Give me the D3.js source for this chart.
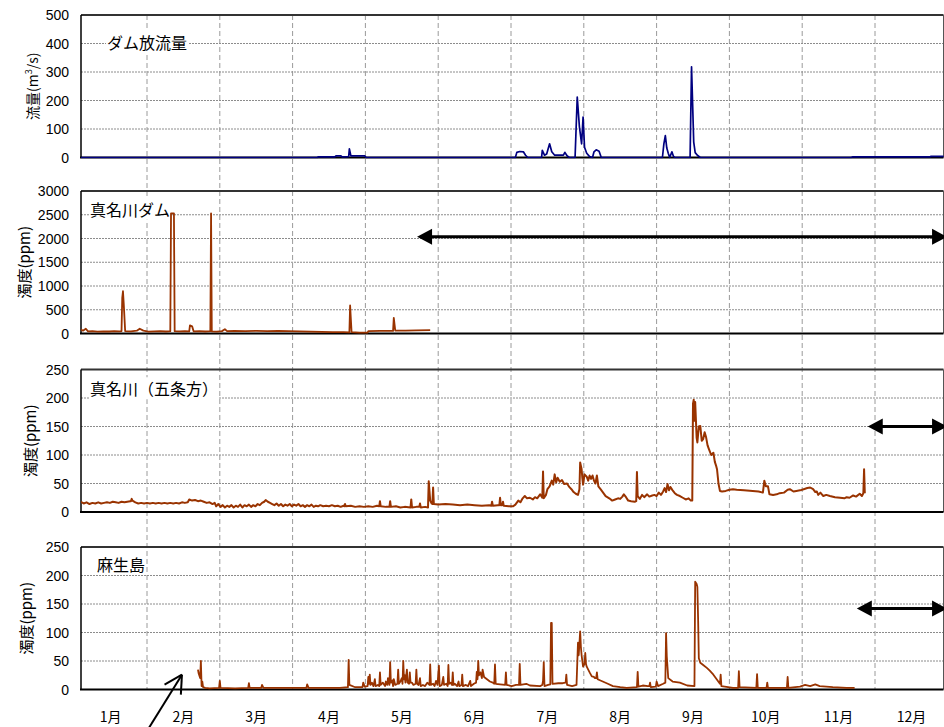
<!DOCTYPE html>
<html>
<head>
<meta charset="utf-8">
<title>ダム放流量と濁度</title>
<script src="https://d3js.org/d3.v7.min.js"></script>
<style>
    body { margin: 0; background: #fff; }
    svg { display: block; }
    .num { font-family: 'Liberation Sans', Arial, sans-serif; font-size: 14px; fill: #000; }
    .jp { font-family: 'Noto Sans CJK JP', sans-serif; fill: #000; }
    .hgrid { stroke: #8c8c8c; stroke-width: 1; stroke-dasharray: 2,1; }
    .vgrid { stroke: #9a9a9a; stroke-width: 1; stroke-dasharray: 5,3; }
</style>
</head>
<body>
<div id="chart"></div>
<script>
// time is in months: 0 = 1 Jan, 12 = 31 Dec
const months = ["1月","2月","3月","4月","5月","6月","7月","8月","9月","10月","11月","12月"];
const flowTicks = [0, 100, 200, 300, 400, 500];
const damTicks = [0, 500, 1000, 1500, 2000, 2500, 3000];
const riverTicks = [0, 50, 100, 150, 200, 250];

// ダム放流量 (m3/s)
const flowData = [[0.09,0],[3.34,0],[3.35,2],[3.58,2],[3.60,6],[3.66,6],[3.68,2],[3.77,3],[3.78,30],[3.80,6],
    [3.99,6],[4.01,0],[6.06,0],[6.08,18],[6.12,21],[6.17,20],[6.20,8],[6.23,0],[6.42,0],[6.43,25],[6.46,8],
    [6.49,12],[6.53,48],[6.56,20],[6.60,8],[6.72,8],[6.74,18],[6.77,6],[6.80,0],[6.88,0],[6.91,212],[6.94,107],
    [6.97,48],[6.99,142],[7.01,36],[7.04,15],[7.08,3],[7.12,0],[7.14,20],[7.17,27],[7.21,22],[7.24,0],[8.08,0],
    [8.10,48],[8.12,77],[8.14,33],[8.16,15],[8.18,0],[8.21,20],[8.23,5],[8.25,0],[8.46,0],[8.48,318],[8.51,54],
    [8.53,17],[8.56,8],[8.60,0],[10.67,0],[10.69,2],[11.75,2],[11.77,4],[11.96,4]];

// 真名川ダム 濁度 (ppm)
const damData = [[0.09,80],[0.12,60],[0.16,100],[0.19,45],[0.25,50],[0.32,40],[0.40,45],[0.48,42],[0.55,48],
    [0.62,45],[0.65,50],[0.66,750],[0.67,890],[0.68,640],[0.70,50],[0.78,45],[0.86,60],[0.90,100],[0.95,60],
    [1.02,40],[1.10,45],[1.18,50],[1.26,42],[1.32,50],[1.33,2530],[1.37,2530],[1.38,50],[1.45,45],[1.52,50],
    [1.58,45],[1.59,170],[1.62,150],[1.64,45],[1.72,50],[1.80,42],[1.87,48],[1.88,2530],[1.89,45],[1.96,40],
    [2.03,50],[2.07,90],[2.10,50],[2.20,55],[2.35,50],[2.50,55],[2.65,50],[2.80,55],[2.95,50],[3.10,45],
    [3.25,40],[3.40,35],[3.55,30],[3.70,30],[3.78,25],[3.79,590],[3.81,30],[3.92,20],[4.03,20],[4.04,50],
    [4.20,55],[4.38,55],[4.39,330],[4.41,60],[4.55,60],[4.70,65],[4.89,70]];

// 真名川(五条方) 濁度 (ppm)
const gojoData = [[0.09,18],[0.13,15],[0.17,17],[0.21,14],[0.25,16],[0.29,15],[0.33,17],[0.37,15],[0.41,16],
    [0.45,17],[0.49,16],[0.53,18],[0.57,17],[0.61,16],[0.65,18],[0.69,17],[0.73,18],[0.77,19],[0.78,19],
    [0.79,23],[0.80,20],[0.84,17],[0.88,15],[0.92,16],[0.96,15],[1.00,16],[1.04,15],[1.08,16],[1.12,15],
    [1.16,16],[1.20,15],[1.24,16],[1.28,15],[1.32,16],[1.36,15],[1.40,16],[1.44,15],[1.48,17],[1.52,16],
    [1.56,17],[1.58,22],[1.62,20],[1.66,21],[1.70,19],[1.74,20],[1.78,18],[1.82,16],[1.86,17],[1.90,14],
    [1.93,16],[1.95,10],[1.98,14],[2.01,9],[2.04,12],[2.07,8],[2.10,11],[2.13,9],[2.16,12],[2.19,8],[2.22,11],
    [2.25,9],[2.28,13],[2.31,8],[2.34,12],[2.37,10],[2.40,13],[2.43,9],[2.46,12],[2.49,10],[2.52,14],
    [2.55,12],[2.58,16],[2.61,18],[2.63,21],[2.66,18],[2.69,16],[2.72,14],[2.75,12],[2.78,15],[2.81,11],
    [2.84,14],[2.87,10],[2.90,13],[2.93,11],[2.96,14],[2.99,10],[3.02,13],[3.05,11],[3.08,14],[3.11,10],
    [3.14,12],[3.17,9],[3.20,12],[3.23,10],[3.26,13],[3.29,9],[3.32,11],[3.35,10],[3.38,12],[3.42,10],
    [3.46,11],[3.50,10],[3.54,12],[3.58,10],[3.62,11],[3.66,9],[3.70,11],[3.71,10],[3.72,14],[3.73,10],
    [3.80,11],[3.86,9],[3.92,10],[3.98,9],[4.04,10],[4.10,9],[4.16,11],[4.19,10],[4.20,19],[4.21,10],
    [4.28,9],[4.33,9],[4.34,19],[4.35,9],[4.42,10],[4.48,8],[4.54,9],[4.62,8],[4.63,22],[4.64,8],[4.70,9],
    [4.74,9],[4.75,15],[4.76,8],[4.82,9],[4.86,8],[4.87,54],[4.89,20],[4.91,15],[4.92,14],[4.93,43],
    [4.94,14],[5.00,13],[5.10,14],[5.20,13],[5.30,12],[5.40,13],[5.50,12],[5.60,11],[5.70,12],[5.73,11],
    [5.74,18],[5.75,11],[5.82,12],[5.84,12],[5.85,25],[5.86,12],[5.88,12],[5.89,18],[5.90,11],[5.97,10],
    [6.03,10],[6.06,13],[6.10,20],[6.13,17],[6.16,24],[6.19,28],[6.22,24],[6.26,25],[6.30,22],[6.33,26],
    [6.36,24],[6.40,31],[6.43,25],[6.44,71],[6.45,24],[6.48,30],[6.50,40],[6.53,45],[6.56,55],[6.58,48],
    [6.60,66],[6.62,52],[6.64,60],[6.67,53],[6.70,56],[6.73,49],[6.77,50],[6.80,44],[6.83,40],[6.86,35],
    [6.89,32],[6.92,30],[6.94,40],[6.95,87],[6.97,75],[6.98,60],[6.99,48],[7.01,66],[7.04,62],[7.06,55],
    [7.08,64],[7.10,58],[7.12,64],[7.14,55],[7.16,50],[7.18,64],[7.20,45],[7.23,40],[7.26,35],[7.30,28],
    [7.35,24],[7.39,20],[7.43,22],[7.47,24],[7.50,23],[7.53,27],[7.55,31],[7.58,26],[7.61,20],[7.65,19],
    [7.70,18],[7.72,19],[7.73,70],[7.74,28],[7.77,23],[7.80,30],[7.83,26],[7.87,31],[7.90,27],[7.94,29],
    [7.97,30],[8.00,28],[8.03,34],[8.06,30],[8.09,36],[8.11,42],[8.13,35],[8.15,49],[8.17,38],[8.19,44],
    [8.22,38],[8.25,33],[8.28,30],[8.32,28],[8.36,25],[8.40,22],[8.44,24],[8.47,20],[8.49,20],[8.50,190],
    [8.51,197],[8.52,160],[8.53,193],[8.55,130],[8.56,122],[8.58,150],[8.60,151],[8.62,125],[8.64,128],
    [8.66,140],[8.68,131],[8.70,117],[8.72,110],[8.75,100],[8.78,104],[8.80,88],[8.82,80],[8.83,75],
    [8.85,50],[8.87,37],[8.90,36],[8.95,37],[9.00,39],[9.05,40],[9.10,39],[9.20,38],[9.32,37],[9.40,36],
    [9.46,34],[9.48,55],[9.50,45],[9.53,45],[9.55,31],[9.60,30],[9.65,31],[9.69,33],[9.75,34],[9.80,39],
    [9.83,40],[9.88,36],[9.92,37],[9.97,38],[10.02,40],[10.07,42],[10.11,43],[10.15,40],[10.18,35],
    [10.20,36],[10.22,30],[10.25,34],[10.29,28],[10.33,30],[10.38,28],[10.45,26],[10.52,25],[10.58,24],
    [10.61,26],[10.65,25],[10.70,29],[10.74,27],[10.79,32],[10.82,28],[10.84,33],[10.85,75],[10.86,33]];

// 麻生島 濁度 (ppm)
const asoData = [[1.70,35],[1.71,28],[1.73,20],[1.74,50],[1.75,6],[1.76,14],[1.77,4],[1.80,3],[1.86,2],
    [1.99,3],[2.00,15],[2.01,3],[2.21,2],[2.39,3],[2.40,11],[2.41,3],[2.57,3],[2.58,8],[2.60,3],[2.96,3],
    [3.19,3],[3.20,9],[3.22,3],[3.65,3],[3.76,4],[3.77,52],[3.78,8],[3.86,4],[3.96,4],[3.97,12],[3.99,5],
    [4.03,6],[4.04,22],[4.05,10],[4.06,26],[4.07,8],[4.09,12],[4.11,6],[4.13,18],[4.14,6],[4.17,8],[4.19,6],
    [4.20,30],[4.21,8],[4.24,12],[4.27,6],[4.28,14],[4.30,8],[4.31,20],[4.33,8],[4.34,48],[4.35,12],
    [4.37,16],[4.38,6],[4.39,18],[4.41,8],[4.44,10],[4.45,35],[4.46,10],[4.48,14],[4.50,20],[4.51,10],
    [4.52,50],[4.53,18],[4.54,25],[4.55,12],[4.57,35],[4.58,12],[4.60,10],[4.61,30],[4.62,12],[4.64,12],
    [4.66,8],[4.69,10],[4.70,35],[4.71,10],[4.73,8],[4.75,20],[4.76,6],[4.79,8],[4.82,6],[4.85,12],
    [4.88,8],[4.89,44],[4.90,8],[4.93,10],[4.95,6],[4.97,15],[4.99,8],[5.01,42],[5.02,6],[5.05,8],[5.07,22],
    [5.08,8],[5.11,10],[5.13,6],[5.14,43],[5.15,10],[5.17,12],[5.19,8],[5.20,30],[5.21,8],[5.23,10],
    [5.26,6],[5.28,14],[5.29,6],[5.32,8],[5.33,26],[5.34,6],[5.38,8],[5.41,6],[5.44,15],[5.45,6],[5.49,10],
    [5.52,12],[5.53,31],[5.54,18],[5.55,50],[5.56,25],[5.58,30],[5.60,20],[5.61,35],[5.63,22],[5.67,18],
    [5.71,14],[5.75,12],[5.77,10],[5.78,44],[5.79,10],[5.85,9],[5.92,8],[5.93,30],[5.94,8],[6.01,6],
    [6.07,8],[6.11,8],[6.12,45],[6.13,8],[6.21,10],[6.26,7],[6.40,6],[6.43,8],[6.44,15],[6.45,48],[6.46,6],
    [6.51,8],[6.54,9],[6.55,117],[6.56,117],[6.57,10],[6.65,11],[6.71,11],[6.75,12],[6.76,26],[6.77,8],
    [6.84,6],[6.90,8],[6.92,82],[6.93,60],[6.95,102],[6.96,75],[6.97,60],[6.99,40],[7.01,45],[7.02,64],
    [7.03,45],[7.04,40],[7.08,30],[7.11,23],[7.14,22],[7.15,20],[7.17,20],[7.18,30],[7.19,18],[7.26,14],
    [7.33,10],[7.40,6],[7.50,4],[7.59,3],[7.73,4],[7.74,31],[7.75,5],[7.81,7],[7.88,6],[7.90,6],[7.91,12],
    [7.92,4],[7.99,5],[8.00,14],[8.02,6],[8.09,10],[8.12,12],[8.13,99],[8.14,58],[8.16,20],[8.22,14],
    [8.32,12],[8.42,7],[8.52,6],[8.53,189],[8.55,185],[8.56,180],[8.57,125],[8.58,55],[8.60,47],[8.64,43],
    [8.69,38],[8.73,33],[8.78,26],[8.83,17],[8.87,10],[8.88,26],[8.89,6],[9.05,3],[9.12,3],[9.13,32],
    [9.14,4],[9.37,3],[9.38,27],[9.39,3],[9.51,3],[9.52,12],[9.53,3],[9.79,3],[9.80,22],[9.81,3],[9.97,5],
    [10.04,8],[10.11,6],[10.18,9],[10.24,6],[10.42,4],[10.61,3],[10.72,3]];

// 欠測期間 arrows: [from, to, level]
const damGap = [4.71, 11.99, 2035];
const gojoGap = [10.90, 11.99, 150];
const asoGap = [10.75, 11.99, 142];

const width = 944, height = 727;
const plotLeft = 81, plotRight = 943.5, panelH = 142.5;

const x = d3.scaleLinear().domain([0, 12]).range([74.2, 947.8]);

const svg = d3.select("#chart").append("svg")
    .attr("width", width)
    .attr("height", height);

const panels = [
    {top: 15, ticks: flowTicks, data: flowData, color: "#000080", lw: 1.7, title: "ダム放流量",
     titleX: 107, titleY: 28, label: "flow", labelX: 33, gap: null},
    {top: 191, ticks: damTicks, data: damData, color: "#993300", lw: 1.8, title: "真名川ダム",
     titleX: 90, titleY: 19, label: "濁度(ppm)", labelX: 25, gap: damGap},
    {top: 369.5, ticks: riverTicks, data: gojoData, color: "#993300", lw: 2, title: "真名川（五条方）",
     titleX: 90, titleY: 20, label: "濁度(ppm)", labelX: 31, gap: gojoGap},
    {top: 547, ticks: riverTicks, data: asoData, color: "#993300", lw: 1.8, title: "麻生島",
     titleX: 97, titleY: 18, label: "濁度(ppm)", labelX: 27, gap: asoGap}
];

// month boundaries, dashed, through all panels
svg.append("g")
    .selectAll("line")
    .data(d3.range(1, 12))
    .join("line")
    .attr("class", "vgrid")
    .attr("x1", d => x(d)).attr("x2", d => x(d))
    .attr("y1", panels[0].top).attr("y2", panels[3].top + panelH);

panels.forEach((p, i) => {
    const y = d3.scaleLinear()
        .domain([0, d3.max(p.ticks)])
        .range([p.top + panelH, p.top]);

    const g = svg.append("g");

    // horizontal grid
    g.selectAll(".hgrid")
        .data(p.ticks.slice(1, -1))
        .join("line")
        .attr("class", "hgrid")
        .attr("x1", plotLeft).attr("x2", plotRight)
        .attr("y1", d => y(d)).attr("y2", d => y(d));

    // y tick labels
    g.selectAll(".num")
        .data(p.ticks)
        .join("text")
        .attr("class", "num")
        .attr("x", plotLeft - 12)
        .attr("y", d => y(d))
        .attr("dy", "0.36em")
        .attr("text-anchor", "end")
        .text(d => d);

    // clip
    svg.append("clipPath").attr("id", "clip" + i)
        .append("rect")
        .attr("x", plotLeft).attr("y", p.top - 1)
        .attr("width", plotRight - plotLeft).attr("height", panelH + 2);

    // frame
    g.append("line").attr("x1", plotLeft).attr("x2", plotRight)
        .attr("y1", p.top).attr("y2", p.top)
        .attr("stroke", "#333").attr("stroke-width", 2);
    g.append("line").attr("x1", plotRight).attr("x2", plotRight)
        .attr("y1", p.top).attr("y2", p.top + panelH)
        .attr("stroke", "#555").attr("stroke-width", 1);
    g.append("line").attr("x1", plotLeft - 1).attr("x2", plotRight)
        .attr("y1", p.top + panelH).attr("y2", p.top + panelH)
        .attr("stroke", "#000").attr("stroke-width", 2);
    g.append("line").attr("x1", plotLeft).attr("x2", plotLeft)
        .attr("y1", p.top).attr("y2", p.top + panelH)
        .attr("stroke", "#000").attr("stroke-width", 1.5);

    // title with white box
    const tg = g.append("g");
    const tt = tg.append("text")
        .attr("class", "jp")
        .attr("x", p.titleX)
        .attr("y", p.top + p.titleY)
        .attr("dy", "0.36em")
        .style("font-size", "16px")
        .text(p.title);
    const bb = tt.node().getBBox();
    tg.insert("rect", "text")
        .attr("x", bb.x - 1).attr("y", bb.y + 1)
        .attr("width", bb.width + 2).attr("height", bb.height - 2)
        .attr("fill", "#fff");

    // series
    const line = d3.line().x(d => x(d[0])).y(d => y(d[1]));
    g.append("path")
        .datum(p.data)
        .attr("clip-path", `url(#clip${i})`)
        .attr("fill", "none")
        .attr("stroke", p.color)
        .attr("stroke-width", p.lw)
        .attr("stroke-linejoin", "round")
        .attr("d", line);

    // y axis title
    const cy = p.top + panelH / 2;
    const lt = g.append("text")
        .attr("class", "jp")
        .attr("transform", `translate(${p.labelX},${cy}) rotate(-90)`)
        .attr("text-anchor", "middle")
        .attr("dy", "0.36em")
        .style("font-size", "15px");
    if (p.label === "flow") {
        lt.style("font-size", "14px");
        lt.append("tspan").text("流量(m");
        lt.append("tspan").attr("baseline-shift", "super").style("font-size", "9px").text("3");
        lt.append("tspan").text("/s)");
    } else {
        lt.text(p.label);
    }

    // missing-data span arrow
    if (p.gap) {
        const x1 = x(p.gap[0]), x2 = x(p.gap[1]), ay = y(p.gap[2]);
        g.append("line")
            .attr("x1", x1 + 10).attr("x2", x2 - 10)
            .attr("y1", ay).attr("y2", ay)
            .attr("stroke", "#000").attr("stroke-width", 3);
        g.append("path")
            .attr("d", `M${x1},${ay}L${x1 + 15},${ay - 8}L${x1 + 15},${ay + 8}Z`)
            .attr("fill", "#000");
        g.append("path")
            .attr("d", `M${x2},${ay}L${x2 - 15},${ay - 8}L${x2 - 15},${ay + 8}Z`)
            .attr("fill", "#000");
    }

    // pointer to the start of 麻生島 record
    if (i === 3) {
        const tipX = x(1.48), tipY = y(26);
        const baseX = x(0.97), baseY = y(-79);
        g.append("line")
            .attr("x1", baseX).attr("y1", baseY)
            .attr("x2", tipX).attr("y2", tipY)
            .attr("stroke", "#000").attr("stroke-width", 2);
        const ang = Math.atan2(baseY - tipY, baseX - tipX);
        [-0.5, 0.5].forEach(da => {
            g.append("line")
                .attr("x1", tipX).attr("y1", tipY)
                .attr("x2", tipX + 20 * Math.cos(ang + da))
                .attr("y2", tipY + 20 * Math.sin(ang + da))
                .attr("stroke", "#000").attr("stroke-width", 2);
        });
    }
});

// month labels
svg.append("g")
    .selectAll("text")
    .data(months)
    .join("text")
    .attr("class", "jp")
    .attr("x", (d, i) => x(i + 0.5))
    .attr("y", 717)
    .attr("dy", "0.36em")
    .attr("text-anchor", "middle")
    .style("font-size", "14px")
    .text(d => d);
</script>
</body>
</html>
